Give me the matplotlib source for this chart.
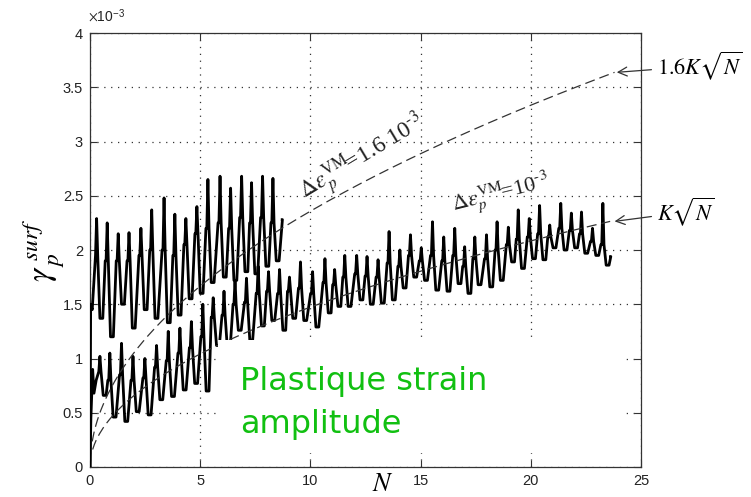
import numpy as np
import matplotlib
matplotlib.use("Agg")
import matplotlib.pyplot as plt
from matplotlib.patches import Rectangle

plt.rcParams['font.family'] = ['Liberation Sans', 'DejaVu Sans']
plt.rcParams['mathtext.fontset'] = 'stix'

# ---------------- data (strain in units of 1e-3) ----------------
x_ticks = [0, 5, 10, 15, 20, 25]
y_ticks = [0, 0.5, 1, 1.5, 2, 2.5, 3, 3.5, 4]
y_tick_labels = ['0', '0.5', '1', '1.5', '2', '2.5', '3', '3.5', '4']

# Response for delta eps = 1.6e-3
hi_start_n = [0.0, 0.03, 0.10]
hi_start_v = [0.0, 1.50, 1.45]
hi_peak_n = [0.30, 0.78, 1.28, 1.77, 2.31, 2.80, 3.36, 3.85, 4.35, 4.85,
             5.35, 5.90, 6.38, 6.88, 7.33, 7.83, 8.30]
hi_peaks = [2.29, 2.25, 2.15, 2.16, 2.20, 2.37, 2.48, 2.33, 2.29, 2.40,
            2.65, 2.68, 2.57, 2.68, 2.62, 2.68, 2.66]
hi_troughs = [1.37, 1.20, 1.50, 1.28, 1.45, 1.37, 1.33, 1.40, 1.55, 1.60,
              1.70, 1.75, 1.72, 1.80, 1.78, 1.85, 1.90]
hi_shoulders = [1.95, 1.90, 1.90, 1.90, 1.95, 2.00, 2.00, 1.95, 2.05, 2.15,
                2.20, 2.25, 2.20, 2.30, 2.25, 2.30, 2.25]
hi_end = (8.72, 2.28)

# Response for delta eps = 1e-3
lo_start_n = [0.0, 0.04, 0.12, 0.18, 0.28]
lo_start_v = [0.0, 0.45, 0.90, 0.68, 0.80]
lo_peak_n = [0.45, 0.90, 1.43, 1.95, 2.49, 3.02, 3.55, 4.08, 4.60, 5.12,
             5.59, 6.08, 6.58, 7.10, 7.63, 8.10, 8.60, 9.05, 9.55, 10.10,
             10.66, 11.10, 11.56, 12.10, 12.57, 13.07, 13.57, 14.06, 14.54, 15.03,
             15.54, 16.05, 16.55, 17.00, 17.46, 17.99, 18.47, 18.98, 19.43, 19.93,
             20.40, 20.86, 21.36, 21.84, 22.30, 22.80, 23.27]
lo_peaks = [1.02, 1.05, 1.14, 1.02, 1.00, 1.12, 1.25, 1.28, 1.34, 1.50,
            1.56, 1.62, 1.72, 1.74, 1.85, 1.80, 1.82, 1.75, 1.89, 1.80,
            1.92, 1.82, 1.95, 1.95, 1.94, 1.91, 2.17, 2.00, 2.14, 2.02,
            2.26, 2.12, 2.20, 2.03, 2.12, 2.14, 2.26, 2.21, 2.37, 2.29,
            2.41, 2.23, 2.43, 2.34, 2.35, 2.20, 2.43]
lo_troughs = [0.66, 0.46, 0.42, 0.51, 0.48, 0.62, 0.65, 0.71, 0.77, 0.70,
              1.12, 1.10, 1.26, 1.17, 1.30, 1.35, 1.26, 1.37, 1.35, 1.29,
              1.42, 1.48, 1.48, 1.54, 1.50, 1.51, 1.54, 1.65, 1.75, 1.72,
              1.63, 1.62, 1.69, 1.60, 1.68, 1.66, 1.72, 1.89, 1.83, 1.92,
              1.91, 2.02, 2.00, 2.02, 1.97, 1.95, 1.86]
lo_shoulders = [0.88, 0.80, 0.85, 0.80, 0.82, 0.92, 0.98, 1.05, 1.10, 1.20,
                1.38, 1.40, 1.50, 1.52, 1.60, 1.62, 1.60, 1.62, 1.65, 1.60,
                1.70, 1.68, 1.75, 1.78, 1.76, 1.75, 1.88, 1.85, 1.95, 1.90,
                1.95, 1.90, 1.95, 1.85, 1.92, 1.92, 2.00, 2.05, 2.10, 2.12,
                2.15, 2.12, 2.20, 2.18, 2.15, 2.08, 2.05]
lo_end = (23.62, 1.94)

# Reference law gamma = K sqrt(N)
K = 0.466
factor_hi = 1.6
law_lo_range = (0.12, 23.6)
law_hi_range = (0.10, 23.8)


def cyclic_path(start_n, start_v, peak_n, peaks, troughs, shoulders, end):
    """Narrow spike on a shoulder, fall to a trough plateau, climb back."""
    xs, ys = list(start_n), list(start_v)
    for k in range(len(peak_n)):
        c = peak_n[k]
        nxt = peak_n[k + 1] if k + 1 < len(peak_n) else end[0] + 0.1
        s_next = shoulders[k + 1] if k + 1 < len(peak_n) else end[1]
        xs += [c - 0.05, c, c + 0.05, c + 0.15, c + 0.28, nxt - 0.09]
        ys += [shoulders[k], peaks[k], shoulders[k], troughs[k], troughs[k],
               s_next]
    xs.append(end[0])
    ys.append(end[1])
    return np.array(xs), np.array(ys)


fig = plt.figure(figsize=(7.51, 4.97), dpi=100)
ax = fig.add_axes([90 / 751, 30 / 497, 551 / 751, 434 / 497])

ax.set_xlim(0, 25)
ax.set_ylim(0, 4)

# grid and frame
ax.grid(True, linestyle=(0, (1, 4.5)), color='#333333', linewidth=0.9)
ax.set_axisbelow(True)
for s in ax.spines.values():
    s.set_linewidth(0.9)
    s.set_color('#333333')
ax.set_xticks(x_ticks)
ax.set_yticks(y_ticks)
ax.set_yticklabels(y_tick_labels)
ax.tick_params(direction='in', length=5, width=0.8, top=True, right=True,
               labelsize=10.5, labelcolor='#222222', pad=5, color='#333333')

# oscillating responses
xh, yh = cyclic_path(hi_start_n, hi_start_v, hi_peak_n, hi_peaks,
                     hi_troughs, hi_shoulders, hi_end)
xl, yl = cyclic_path(lo_start_n, lo_start_v, lo_peak_n, lo_peaks,
                     lo_troughs, lo_shoulders, lo_end)
ax.plot(xh, yh, color='black', linewidth=2.0, zorder=3)
ax.plot(xl, yl, color='black', linewidth=2.0, zorder=3)

# sqrt laws
n_lo = np.linspace(*law_lo_range, 300)
n_hi = np.linspace(*law_hi_range, 300)
ax.plot(n_lo, K * np.sqrt(n_lo), color='#333333', linewidth=0.9,
        dashes=(8, 4), zorder=4)
ax.plot(n_hi, factor_hi * K * np.sqrt(n_hi), color='#333333', linewidth=0.9,
        dashes=(8, 4), zorder=4)

# annotations for the laws
ax.annotate(r'$1.6K\sqrt{N}$', xy=(23.9, factor_hi * K * np.sqrt(23.8)),
            xytext=(657 / 751, 1 - 66 / 497), textcoords='figure fraction',
            va='center', ha='left', fontsize=16,
            arrowprops=dict(arrowstyle='->', color='#333333', lw=0.9,
                            shrinkA=2, shrinkB=0), annotation_clip=False)
ax.annotate(r'$K\sqrt{N}$', xy=(23.8, K * np.sqrt(23.6)),
            xytext=(657 / 751, 1 - 212 / 497), textcoords='figure fraction',
            va='center', ha='left', fontsize=16,
            arrowprops=dict(arrowstyle='->', color='#333333', lw=0.9,
                            shrinkA=2, shrinkB=0), annotation_clip=False)

fig.text(305 / 751, 1 - 200 / 497, r'$\Delta\varepsilon_p^{\mathrm{VM}}\!$=1.6 10$^{\text{-}3}$',
         fontsize=17, family='Liberation Serif', rotation=31,
         rotation_mode='anchor', ha='left', va='baseline', color='#222222')
fig.text(453 / 751, 1 - 210 / 497, r'$\Delta\varepsilon_p^{\mathrm{VM}}\!$=10$^{\text{-}3}$',
         fontsize=16, family='Liberation Serif', rotation=14,
         rotation_mode='anchor', ha='left', va='baseline', color='#222222')

# axis labels
fig.text(44 / 751, 1 - 250 / 497, r'$\gamma_{\,p}^{\ surf}$', fontsize=24,
         rotation=90, ha='center', va='center')
fig.text(383 / 751, 1 - 484 / 497, r'$N$', fontsize=19, ha='center', va='center')
fig.text(88 / 751, 1 - 16 / 497, r'$\times\mathregular{10}^{\mathregular{-3}}$',
         fontsize=10, ha='left', va='center', color='#222222')

# caption in a white box
box = Rectangle(((218 - 90) / 551, (467 - 453) / 434),
                (622 - 218) / 551, (453 - 340) / 434,
                transform=ax.transAxes, facecolor='white', edgecolor='none',
                zorder=6, clip_on=False)
ax.add_patch(box)
fig.text(240 / 751, 1 - 390 / 497, 'Plastique strain',
         fontsize=23, family='DejaVu Sans', color='#11c011',
         ha='left', va='baseline', zorder=7)
fig.text(240 / 751, 1 - 433 / 497, 'amplitude',
         fontsize=23, family='DejaVu Sans', color='#11c011',
         ha='left', va='baseline', zorder=7)

fig.savefig('out.png', dpi=100)
